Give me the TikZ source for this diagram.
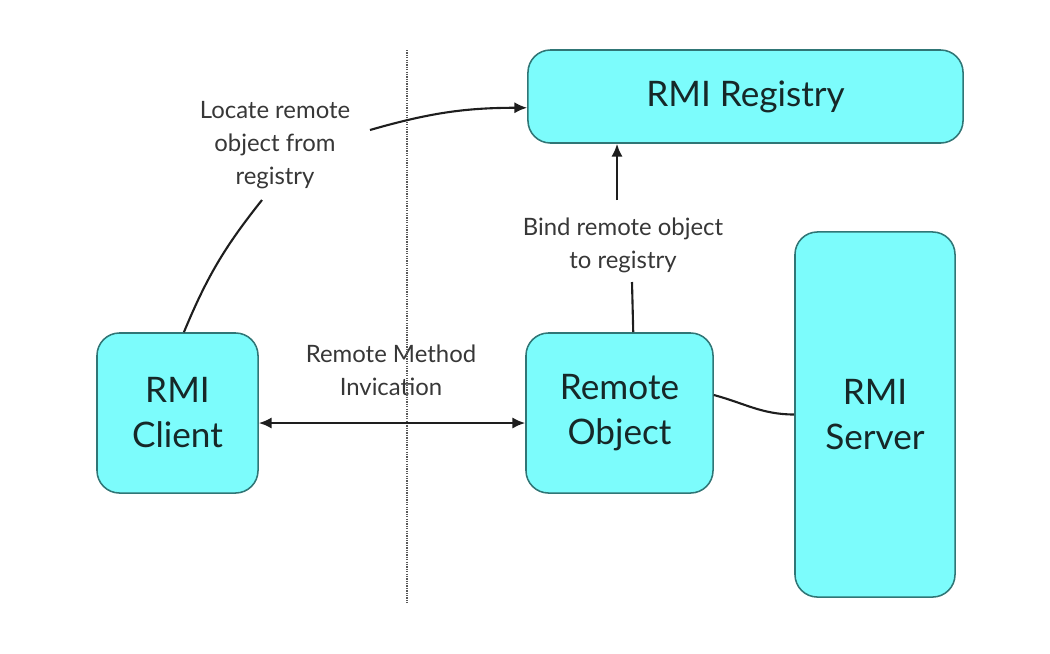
\documentclass[tikz,border=0pt]{standalone}
\usepackage{fontspec}
\setmainfont{Lato}
\usetikzlibrary{arrows.meta,positioning}
\definecolor{rmifill}{RGB}{124,252,252}
\definecolor{rmiedge}{RGB}{48,118,118}
\definecolor{rmitext}{RGB}{22,40,40}
\definecolor{lbltext}{RGB}{55,55,55}
\definecolor{lineink}{RGB}{30,30,30}
\tikzset{
  rmibox/.style={
    draw=rmiedge, fill=rmifill, line width=1.1pt, rounded corners=16pt,
    align=center, inner sep=2pt, text=rmitext,
    font=\fontsize{25}{32}\selectfont
  },
  lbl/.style={align=center, text=lbltext, inner sep=2pt,
    font=\fontsize{17}{23.5}\selectfont},
  arr/.style={-{Latex[length=3.2mm,width=2.8mm]}, draw=lineink, line width=1.5pt},
  link/.style={draw=lineink, line width=1.5pt},
  sep/.style={draw=black!65, line width=1.4pt, dash pattern=on 0.9pt off 0.8pt}
}
\begin{document}
\begin{tikzpicture}[x=0.025cm, y=-0.025cm]
  \useasboundingbox (0,0) rectangle (1050,653);
  % boxes
  \node[rmibox, minimum width=10.875cm, minimum height=2.325cm] (registry) at (745.5,96.5) {RMI Registry};
  \node[rmibox, minimum width=4.025cm, minimum height=4cm] (client) at (177.5,413) {RMI\\Client};
  \node[rmibox, minimum width=4.675cm, minimum height=4cm] (object) at (619.5,413) {Remote\\Object};
  \node[rmibox, minimum width=4cm, minimum height=9.125cm] (server) at (875,414.5) {RMI\\Server};
  % labels
  \node[lbl] (locate) at (275,145) {Locate remote\\object from\\registry};
  \node[lbl] (bind) at (623,245) {Bind remote object\\to registry};
  \node[lbl] (invoke) at (391,370) {Remote Method\\Invication};
  % separator
  \coordinate (septop) at (407,50);
  \coordinate (sepbot) at (407,603);
  \draw[sep] (septop) -- (sepbot);
  % connectors
  \coordinate (loc1) at (262,200);
  \coordinate (loc2) at (370,130);
  \draw[link] ([xshift=0.16cm]client.north) to[bend left=8] (loc1);
  \draw[arr] (loc2) to[bend left=8] ([yshift=-8pt]registry.west);
  \coordinate (bnd1) at (632,282);
  \coordinate (bnd2) at (617,200);
  \draw[link] ([xshift=2.7cm]object.north west) -- (bnd1);
  \draw[arr] (bnd2) -- (registry.south west -| bnd2);
  \draw[link] ([yshift=0.45cm]object.east) to[out=-15,in=180] (server.west);
  \draw[{Latex[length=3.2mm,width=2.8mm]}-{Latex[length=3.2mm,width=2.8mm]}, draw=lineink, line width=1.5pt]
    ([yshift=-0.25cm]client.east) -- ([yshift=-0.25cm]object.west);
\end{tikzpicture}
\end{document}
